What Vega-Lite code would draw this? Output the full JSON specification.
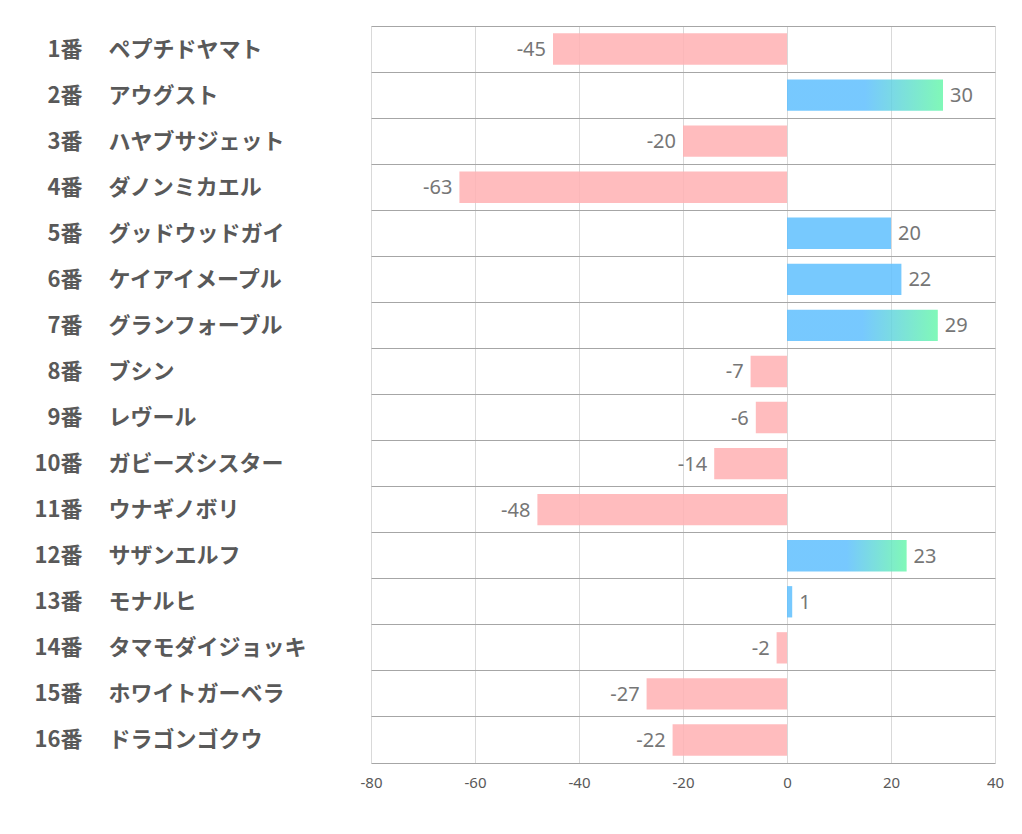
{
  "$schema": "https://vega.github.io/schema/vega-lite/v6.json",
  "width": 624,
  "height": 737,
  "autosize": {"type": "none"},
  "padding": {"left": 371, "top": 26, "right": 27, "bottom": 71},
  "background": "white",
  "config": {"view": {"stroke": null}},
  "data": {
    "values": [
      {"num": "1番", "name": "ペプチドヤマト", "value": -45},
      {"num": "2番", "name": "アウグスト", "value": 30},
      {"num": "3番", "name": "ハヤブサジェット", "value": -20},
      {"num": "4番", "name": "ダノンミカエル", "value": -63},
      {"num": "5番", "name": "グッドウッドガイ", "value": 20},
      {"num": "6番", "name": "ケイアイメープル", "value": 22},
      {"num": "7番", "name": "グランフォーブル", "value": 29},
      {"num": "8番", "name": "ブシン", "value": -7},
      {"num": "9番", "name": "レヴール", "value": -6},
      {"num": "10番", "name": "ガビーズシスター", "value": -14},
      {"num": "11番", "name": "ウナギノボリ", "value": -48},
      {"num": "12番", "name": "サザンエルフ", "value": 23},
      {"num": "13番", "name": "モナルヒ", "value": 1},
      {"num": "14番", "name": "タマモダイジョッキ", "value": -2},
      {"num": "15番", "name": "ホワイトガーベラ", "value": -27},
      {"num": "16番", "name": "ドラゴンゴクウ", "value": -22}
    ]
  },
  "resolve": {"scale": {"y": "independent"}, "axis": {"y": "independent"}},
  "layer": [
    {
      "mark": {"type": "bar", "opacity": 0.85, "height": {"band": 0.68}},
      "encoding": {
        "y": {
          "field": "num", "type": "nominal", "sort": null,
          "scale": {"paddingInner": 0, "paddingOuter": 0},
          "axis": {"orient": "left", "labels": false, "ticks": false, "domain": false, "title": null,
                   "grid": true, "bandPosition": 0, "gridColor": "#a6a6a6", "gridWidth": 1}
        },
        "x": {
          "field": "value", "type": "quantitative",
          "scale": {"domain": [-80, 40], "nice": false, "zero": true},
          "axis": {"values": [-80, -60, -40, -20, 0, 20, 40], "title": null, "ticks": false,
                   "grid": true, "gridColor": "#d9d9d9", "domainColor": "#a6a6a6",
                   "labelExpr": "'' + datum.value", "labelFlush": false, "labelOverlap": false,
                   "labelFont": "Noto Sans", "labelFontSize": 15, "labelColor": "#595959",
                   "labelPadding": 12}
        },
        "color": {
          "condition": [
            {"test": "datum.value < 0", "value": "#FFB0B3"},
            {"test": "datum.value <= 22", "value": "#5FBFFE"}
          ],
          "value": {
            "gradient": "linear", "x1": 0, "y1": 0, "x2": 1, "y2": 0,
            "stops": [
              {"offset": 0, "color": "#5FBFFE"},
              {"offset": 0.5, "color": "#5FBFFE"},
              {"offset": 1, "color": "#6AF7AB"}
            ]
          }
        }
      }
    },
    {
      "mark": {"type": "text", "align": "right", "baseline": "middle", "dx": -7, "dy": 1, "font": "Noto Sans", "fontSize": 20, "color": "#767676"},
      "encoding": {
        "y": {
          "field": "num", "type": "nominal", "sort": null,
          "scale": {"paddingInner": 0, "paddingOuter": 0},
          "axis": {"orient": "left", "ticks": false, "domain": false, "grid": false, "title": null,
                   "labelAlign": "right", "labelPadding": 289, "labelFont": "Noto Sans CJK JP", "labelLimit": 400,
                   "labelFontWeight": "bold", "labelFontSize": 22, "labelColor": "#595959"}
        },
        "x": {"field": "value", "type": "quantitative", "scale": {"domain": [-80, 40], "nice": false}},
        "text": {"condition": {"test": "datum.value < 0", "field": "value", "type": "nominal"}, "value": ""}
      }
    },
    {
      "mark": {"type": "text", "align": "left", "baseline": "middle", "dx": 7, "dy": 1, "font": "Noto Sans", "fontSize": 20, "color": "#767676"},
      "encoding": {
        "y": {
          "field": "name", "type": "nominal", "sort": null,
          "scale": {"paddingInner": 0, "paddingOuter": 0},
          "axis": {"orient": "left", "ticks": false, "domain": false, "grid": false, "title": null,
                   "labelAlign": "left", "labelPadding": 263, "labelFont": "Noto Sans CJK JP", "labelLimit": 400,
                   "labelFontWeight": "bold", "labelFontSize": 22, "labelColor": "#595959"}
        },
        "x": {"field": "value", "type": "quantitative", "scale": {"domain": [-80, 40], "nice": false}},
        "text": {"condition": {"test": "datum.value >= 0", "field": "value", "type": "nominal"}, "value": ""}
      }
    }
  ]
}
